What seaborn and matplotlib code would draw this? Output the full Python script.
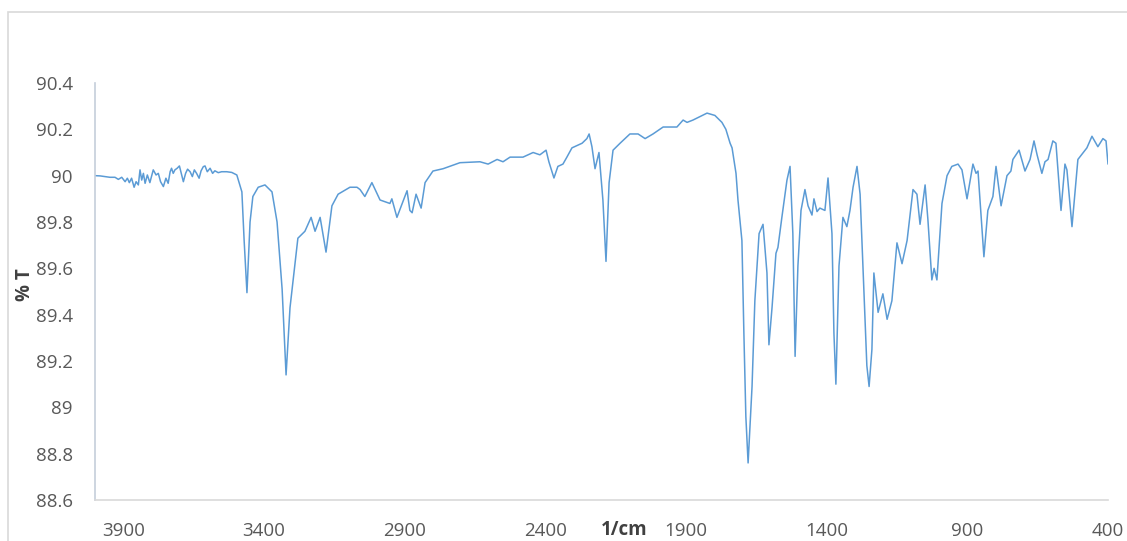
import matplotlib
matplotlib.use("Agg")
import matplotlib.pyplot as plt
import matplotlib.patches as mpatches
from matplotlib.ticker import FixedLocator, FuncFormatter
import seaborn as sns
import pandas as pd

# Wavenumber (1/cm) and transmittance (% T)
wavenumber = [
    4000, 3982, 3964, 3947, 3929, 3917, 3905, 3893, 3885, 3878, 3870, 3861, 3854, 3846,
    3840, 3834, 3828, 3822, 3814, 3805, 3793, 3783, 3775, 3767, 3757, 3748, 3740, 3733,
    3728, 3722, 3716, 3708, 3700, 3692, 3686, 3678, 3671, 3662, 3654, 3647, 3639, 3630,
    3623, 3615, 3609, 3601, 3591, 3582, 3574, 3562, 3550, 3532, 3514, 3496,
    3478, 3470, 3460, 3449, 3439, 3420, 3396, 3371, 3353, 3335, 3321, 3307, 3279, 3254,
    3232, 3218, 3200, 3179, 3158, 3136, 3094, 3069, 3058, 3041, 3016, 2987, 2952, 2945,
    2927, 2891, 2881, 2873, 2859, 2841, 2827, 2799, 2763, 2703, 2632, 2603, 2571, 2550,
    2525, 2479, 2443, 2419, 2397, 2387, 2369, 2355, 2337, 2323, 2305, 2269, 2252, 2244,
    2234, 2223, 2209, 2195, 2184, 2173, 2159, 2134, 2099, 2070, 2045, 2017, 1981, 1932,
    1910, 1896, 1875, 1850, 1825, 1797, 1772, 1758, 1743, 1736, 1722, 1715, 1701, 1694,
    1687, 1679, 1665, 1655, 1640, 1626, 1612, 1605, 1594, 1580, 1573, 1559, 1541, 1530,
    1520, 1512, 1502, 1491, 1477, 1466, 1452, 1445, 1434, 1424, 1406, 1395, 1381, 1374,
    1367, 1356, 1342, 1328, 1317, 1306, 1292, 1281, 1271, 1257, 1249, 1239, 1232, 1217,
    1200, 1185, 1168, 1150, 1132, 1114, 1093, 1079, 1068, 1050, 1040, 1026, 1018, 1008,
    990, 972, 955, 933, 919, 901, 880, 869, 862, 841, 827, 809, 798, 780, 759, 745, 738,
    716, 695, 677, 663, 652, 635, 624, 613, 596, 585, 567, 553, 546, 528, 507, 475, 457,
    436, 418, 407, 400,
]
transmittance = [
    90.000, 89.999, 89.996, 89.993, 89.993, 89.984, 89.993, 89.974, 89.989, 89.970, 89.989, 89.950, 89.974, 89.960,
    90.025, 89.981, 90.010, 89.967, 90.003, 89.970, 90.025, 90.003, 90.010, 89.974, 89.953, 89.989, 89.967, 90.017,
    90.032, 90.010, 90.025, 90.032, 90.042, 90.003, 89.974, 90.010, 90.028, 90.017, 89.996, 90.025, 90.010, 89.989,
    90.021, 90.039, 90.042, 90.017, 90.032, 90.010, 90.021, 90.013, 90.017, 90.017, 90.014, 90.003,
    89.93, 89.72, 89.495, 89.80, 89.91, 89.95, 89.96, 89.93, 89.80, 89.51, 89.14, 89.43, 89.73, 89.76,
    89.82, 89.76, 89.82, 89.67, 89.87, 89.92, 89.95, 89.95, 89.94, 89.91, 89.97, 89.895, 89.88, 89.90,
    89.82, 89.935, 89.85, 89.84, 89.92, 89.86, 89.97, 90.02, 90.03, 90.056, 90.06, 90.05, 90.07, 90.06,
    90.08, 90.08, 90.10, 90.09, 90.11, 90.06, 89.99, 90.04, 90.05, 90.08, 90.12, 90.14, 90.16, 90.18,
    90.125, 90.03, 90.10, 89.895, 89.63, 89.97, 90.11, 90.14, 90.18, 90.18, 90.16, 90.18, 90.21, 90.21,
    90.24, 90.23, 90.24, 90.255, 90.27, 90.26, 90.23, 90.20, 90.14, 90.12, 90.01, 89.895, 89.72, 89.32,
    88.96, 88.76, 89.09, 89.46, 89.75, 89.79, 89.58, 89.27, 89.43, 89.665, 89.69, 89.82, 89.98, 90.04,
    89.75, 89.22, 89.61, 89.85, 89.94, 89.87, 89.83, 89.90, 89.845, 89.86, 89.85, 89.99, 89.75, 89.32,
    89.10, 89.61, 89.82, 89.78, 89.85, 89.95, 90.04, 89.92, 89.61, 89.18, 89.09, 89.25, 89.58, 89.41,
    89.49, 89.38, 89.46, 89.71, 89.62, 89.72, 89.94, 89.92, 89.79, 89.96, 89.81, 89.55, 89.60, 89.55,
    89.88, 90.00, 90.04, 90.05, 90.025, 89.90, 90.05, 90.01, 90.02, 89.65, 89.85, 89.91, 90.04, 89.87, 90.00, 90.02, 90.07,
    90.11, 90.02, 90.07, 90.15, 90.09, 90.01, 90.06, 90.07, 90.15, 90.14, 89.85, 90.05, 90.025, 89.78, 90.07, 90.12, 90.17,
    90.125, 90.16, 90.15, 90.05,
]
x_ticks = [3900, 3400, 2900, 2400, 1900, 1400, 900, 400]
y_ticks = [88.6, 88.8, 89.0, 89.2, 89.4, 89.6, 89.8, 90.0, 90.2, 90.4]
x_title = "1/cm"
y_title = "% T"

df = pd.DataFrame({"wn": wavenumber, "T": transmittance})

sns.set_style("white")
plt.rcParams["font.family"] = ["Open Sans", "DejaVu Sans"]

W, H = 1127, 541
fig = plt.figure(figsize=(W / 100, H / 100), dpi=100)
fig.patch.set_facecolor("white")

# outer chart-area frame
frame = mpatches.Rectangle((8 / W, -0.1), 1.2, 1 - 12 / H + 0.1, transform=fig.transFigure,
                           fill=False, edgecolor="#D9D9D9", linewidth=1.2)
fig.patches.append(frame)

ax = fig.add_axes([95 / W, 1 - 500 / H, (1108 - 95) / W, (500 - 83) / H])
sns.lineplot(data=df, x="wn", y="T", ax=ax, color="#5B9BD5", linewidth=1.1)

ax.set_xlim(4000, 400)
ax.set_ylim(88.6, 90.4)
ax.xaxis.set_major_locator(FixedLocator(x_ticks))
ax.yaxis.set_major_locator(FixedLocator(y_ticks))
ax.yaxis.set_major_formatter(FuncFormatter(lambda v, p: f"{v:.1f}".rstrip("0").rstrip(".")))
ax.tick_params(axis="both", length=0, labelsize=13.5, labelcolor="#595959")
ax.tick_params(axis="y", pad=16)
ax.tick_params(axis="x", pad=16)

for s in ["top", "right"]:
    ax.spines[s].set_visible(False)
ax.spines["left"].set_color("#C5CEDA")
ax.spines["bottom"].set_color("#D9D9D9")
ax.spines["left"].set_linewidth(1.2)
ax.spines["bottom"].set_linewidth(1.2)

ax.set_xlabel(x_title, fontsize=13.5, fontweight="bold", color="#404040")
ax.xaxis.set_label_coords((624 - 95) / (1108 - 95), (500 - 530) / (500 - 83))
ax.xaxis.label.set_va("center")
ax.set_ylabel(y_title, fontsize=13.5, fontweight="bold", color="#404040")
ax.yaxis.set_label_coords((25 - 95) / (1108 - 95), (500 - 285) / (500 - 83))
ax.yaxis.label.set_va("center")

fig.savefig("out.png", dpi=100, facecolor="white")
